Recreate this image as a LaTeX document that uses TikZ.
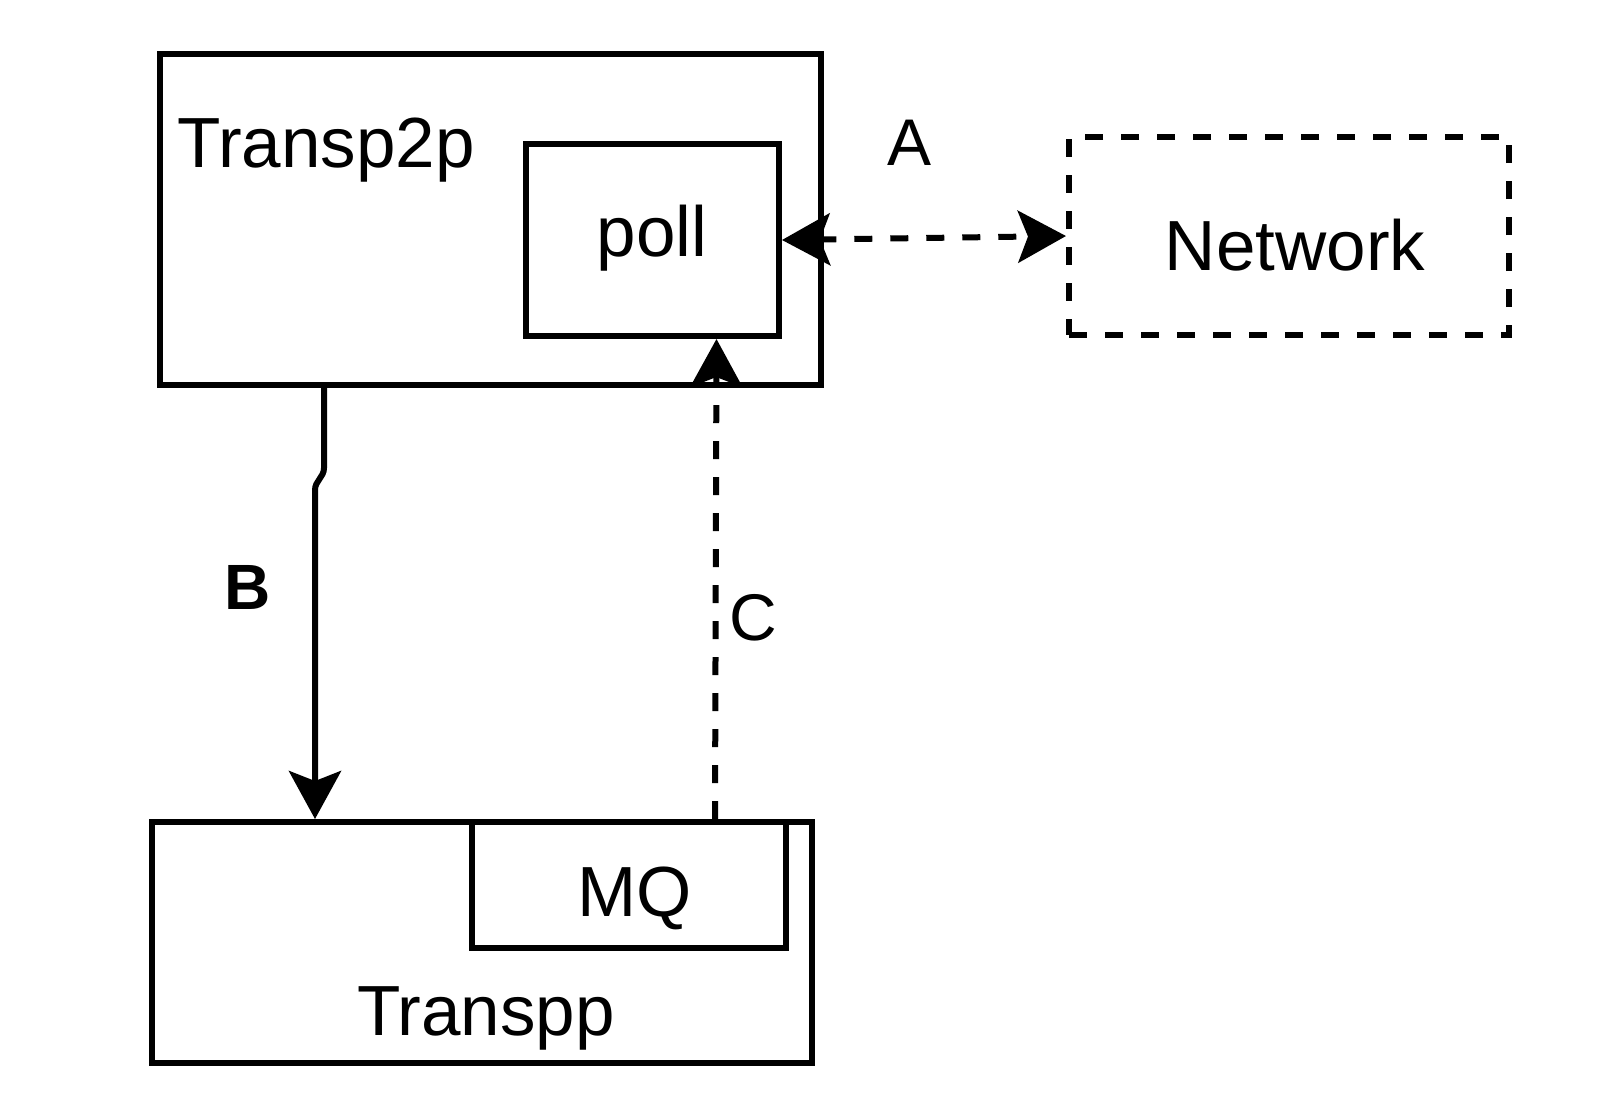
\documentclass[tikz,border=0pt]{standalone}
\usepackage{fontspec}
\setmainfont{Liberation Sans}
\usetikzlibrary{arrows.meta,calc}
\begin{document}
\begin{tikzpicture}[x=0.5pt,y=-0.5pt,
  box/.style={draw,line width=3pt,inner sep=0pt,minimum width=#1},
  dsh/.style={dash pattern=on 9pt off 9pt},
  lbl/.style={inner sep=0pt,anchor=base,font=\fontsize{35.5}{40}\selectfont},
  ltr/.style={inner sep=0pt,anchor=base,font=\fontsize{33}{38}\selectfont},
  arr/.style={line width=3pt,-{Stealth[length=24pt,width=26pt,inset=5pt]}},
  darr/.style={line width=3pt,{Stealth[length=24pt,width=26pt,inset=5pt]}-{Stealth[length=24pt,width=26pt,inset=5pt]}}]
\useasboundingbox (0,0) rectangle (1618,1094);
% boxes
\node[box=330.5pt,minimum height=165.5pt] (t2p) at (490.5,219.5) {};
\node[box=126.5pt,minimum height=96pt] (poll) at (652.5,240) {};
\node[box=220pt,minimum height=99pt,dsh] (net) at (1289,236) {};
\node[box=330pt,minimum height=120.5pt] (tpp) at (482,942.5) {};
\node[box=157pt,minimum height=63pt] (mq) at (629,885) {};
% texts
\node[lbl,anchor=base west] (t2pt) at (177,167) {Transp2p};
\node[lbl] (pollt) at (652,256) {poll};
\node[lbl] (nett) at (1295,270) {Network};
\node[lbl] (mqt) at (635,916) {MQ};
\node[lbl] (tppt) at (486,1035) {Transpp};
\node[ltr] (la) at (910,165) {A};
\node[ltr,font=\fontsize{32}{38}\selectfont\bfseries] (lb) at (248,609) {B};
\node[ltr] (lc) at (753,640) {C};
% connectors
\draw[darr,dsh] (poll.east) -- (net.west);
\coordinate (b0) at ($(t2p.south west)+(167,0)$);
\coordinate (b1) at ($(tpp.north west)+(166,0)$);
\draw[arr] (b0) -- ++(0,80) to[out=-90,in=90] ($(b0)+(-9,102)$) -- (b1);
\draw[arr,dsh] ($(mq.north)+(86,0)$) -- ($(poll.south)+(64,0)$);
\end{tikzpicture}
\end{document}
